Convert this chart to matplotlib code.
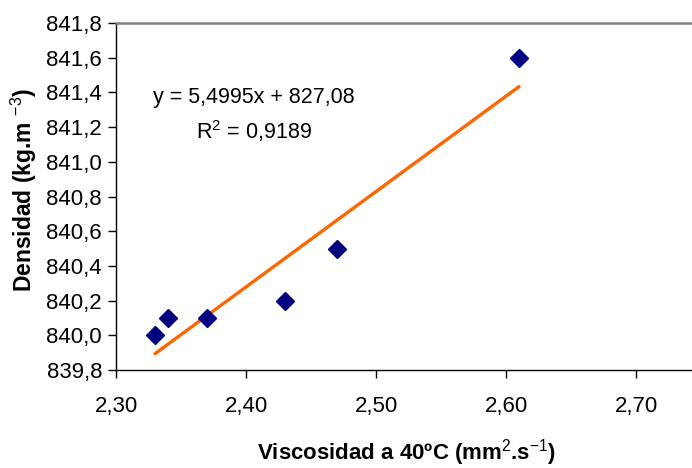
import numpy as np
import matplotlib.pyplot as plt
from matplotlib.ticker import FuncFormatter

plt.rcParams['font.family'] = ['Liberation Sans', 'DejaVu Sans']
plt.rcParams['mathtext.fontset'] = 'custom'
plt.rcParams['mathtext.rm'] = 'Liberation Sans'
plt.rcParams['mathtext.default'] = 'rm'

viscosidad = [2.33, 2.34, 2.37, 2.43, 2.47, 2.61]
densidad = [840.0, 840.1, 840.1, 840.2, 840.5, 841.6]
pendiente = 5.4995
ordenada = 827.08
r2 = 0.9189
xticks = [2.30, 2.40, 2.50, 2.60, 2.70]
yticks = [839.8, 840.0, 840.2, 840.4, 840.6, 840.8, 841.0, 841.2, 841.4, 841.6, 841.8]

fig = plt.figure(figsize=(6.92, 4.68), dpi=100)
ax = fig.add_axes([116/692, 98/468, 576/692, 347/468])

# tendencia lineal
xt = np.array([min(viscosidad), max(viscosidad)])
ax.plot(xt, pendiente*xt + ordenada, color='#FF6600', lw=2.4, solid_capstyle='round', zorder=2)
ax.plot(viscosidad, densidad, 'D', color='#000080', ms=9, zorder=3)

ax.set_xlim(2.30, 2.743)
ax.set_ylim(839.8, 841.8)
ax.set_xticks(xticks)
ax.set_yticks(yticks)
ax.xaxis.set_major_formatter(FuncFormatter(lambda v, p: f"{v:.2f}".replace('.', ',')))
ax.yaxis.set_major_formatter(FuncFormatter(lambda v, p: f"{v:.1f}".replace('.', ',')))
ax.tick_params(labelsize=16, length=6, width=1, direction='out', pad=4)
ax.tick_params(axis='x', pad=13)

ax.spines['right'].set_visible(False)
ax.spines['top'].set_color('#808080')
ax.spines['top'].set_linewidth(1.8)
ax.spines['left'].set_linewidth(1)
ax.spines['bottom'].set_linewidth(1)

ax.text(2.406, 841.37, "y = 5,4995x + 827,08", fontsize=15.5, ha='center', va='center')
ax.text(2.406, 841.18, f"R$^{{2}}$ = {r2:.4f}".replace('.', ','), fontsize=15.5, ha='center', va='center')

fig.text(407/692, 1 - 453/468, "Viscosidad a 40ºC (mm$^{2}$.s$^{-1}$)", fontsize=16,
         fontweight='bold', ha='center', va='center')
fig.text(24/692, 1 - 190/468, "Densidad (kg.m $^{-3}$)", fontsize=16.5, fontweight='bold',
         rotation=90, ha='center', va='center')

fig.savefig('out.png', dpi=100)
